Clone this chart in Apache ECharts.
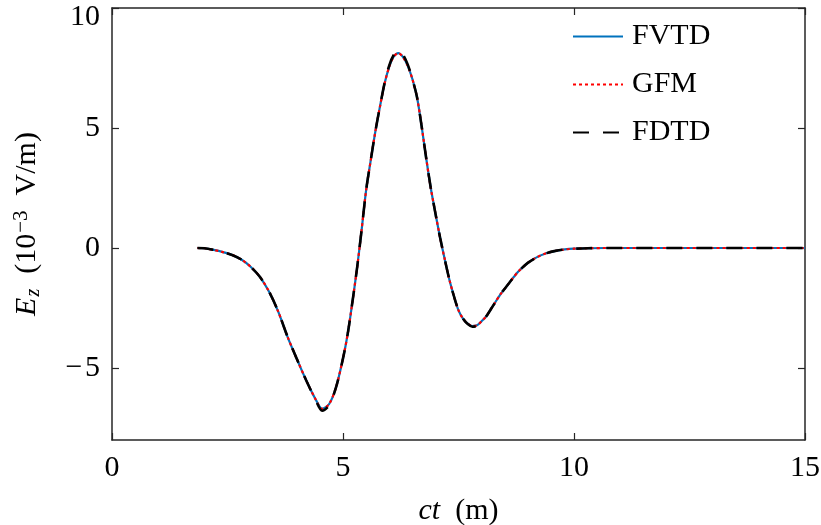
<!DOCTYPE html>
<html>
<head>
<meta charset="utf-8">
<script src="https://cdn.jsdelivr.net/npm/echarts@6/dist/echarts.min.js"></script>
<style>
html,body{margin:0;padding:0;background:#fff;}
#c{width:821px;height:525px;}
</style>
</head>
<body>
<div id="c"></div>
<script>
// ct (m)
const ct = [1.85,2.0,2.2,2.4,2.6,2.8,3.0,3.2,3.4,3.6,3.8,4.0,4.2,4.4,4.55,4.7,4.85,5.0,5.1,5.2,5.3,5.4,5.5,5.6,5.7,5.8,5.9,6.0,6.1,6.2,6.3,6.4,6.5,6.6,6.7,6.8,6.9,7.0,7.1,7.2,7.3,7.4,7.5,7.6,7.7,7.8,7.9,8.0,8.1,8.2,8.3,8.4,8.5,8.6,8.7,8.8,9.0,9.2,9.4,9.6,9.8,10.0,10.3,10.7,11,12,13,14,15];
// Ez (1e-3 V/m)
const fvtd = [0,-0.01,-0.08,-0.17,-0.29,-0.48,-0.78,-1.2,-1.82,-2.66,-3.7,-4.62,-5.5,-6.28,-6.7,-6.5,-5.8,-4.6,-3.6,-2.3,-0.9,0.7,2.4,3.65,4.85,5.89,6.85,7.55,7.98,8.12,7.95,7.6,7.05,6.3,5.1,3.75,2.5,1.45,0.45,-0.45,-1.3,-2.0,-2.6,-2.95,-3.15,-3.25,-3.22,-3.05,-2.85,-2.55,-2.25,-1.95,-1.7,-1.45,-1.2,-0.97,-0.62,-0.38,-0.22,-0.12,-0.06,-0.03,-0.01,0,0,0,0,0,0];
const gfm = [0,-0.01,-0.08,-0.17,-0.29,-0.48,-0.78,-1.2,-1.82,-2.66,-3.7,-4.62,-5.5,-6.28,-6.7,-6.5,-5.8,-4.6,-3.6,-2.3,-0.9,0.7,2.4,3.65,4.85,5.89,6.85,7.55,7.98,8.12,7.95,7.6,7.05,6.3,5.1,3.75,2.5,1.45,0.45,-0.45,-1.3,-2.0,-2.6,-2.95,-3.15,-3.25,-3.22,-3.05,-2.85,-2.55,-2.25,-1.95,-1.7,-1.45,-1.2,-0.97,-0.62,-0.38,-0.22,-0.12,-0.06,-0.03,-0.01,0,0,0,0,0,0];
const fdtd = [0,-0.01,-0.08,-0.17,-0.29,-0.48,-0.78,-1.2,-1.82,-2.66,-3.7,-4.62,-5.5,-6.3,-6.78,-6.55,-5.8,-4.6,-3.6,-2.3,-0.9,0.7,2.4,3.65,4.85,5.89,6.87,7.6,8.05,8.22,8.05,7.65,7.05,6.3,5.1,3.75,2.5,1.45,0.45,-0.45,-1.3,-2.0,-2.6,-2.95,-3.17,-3.28,-3.24,-3.05,-2.85,-2.55,-2.25,-1.95,-1.7,-1.45,-1.2,-0.97,-0.62,-0.38,-0.22,-0.12,-0.06,-0.03,-0.01,0,0,0,0,0,0];
const xTicks = [0,5,10,15];
const yTicks = [-5,0,5,10];

const pair = a => ct.map((x,i)=>[x,a[i]]);
const FONT = 'Liberation Serif';
const FS = 30;
const axisColor = '#262626';
const lineAx = {show:true,onZero:false,lineStyle:{color:axisColor,width:1.5}};
const tickAx = {show:true,inside:true,length:7,lineStyle:{color:axisColor,width:1.2}};

const chart = echarts.init(document.getElementById('c'));
chart.setOption({
  animation:false,
  textStyle:{fontFamily:FONT},
  grid:{left:112,right:16,top:8,bottom:85,containLabel:false,outerBoundsMode:'none'},
  legend:{
    orient:'vertical', left:572, top:21, padding:0,
    itemWidth:50, itemHeight:14, itemGap:17,
    itemStyle:{opacity:0},
    textStyle:{fontFamily:FONT,fontSize:FS,color:'#000',lineHeight:31,padding:[0,0,0,4]},
    data:['FVTD','GFM','FDTD']
  },
  xAxis:[{
    type:'value',min:0,max:15,interval:5,
    axisLine:lineAx, axisTick:tickAx,
    axisLabel:{fontFamily:FONT,fontSize:FS,color:'#000',margin:13,
      formatter:v=>xTicks.includes(v)?String(v):''},
    splitLine:{show:false},
    name:'{i|ct}{n| \u00a0(m)}',nameLocation:'middle',nameGap:56,
    nameTextStyle:{rich:{i:{fontFamily:FONT,fontStyle:'italic',fontSize:FS,color:'#000'},n:{fontFamily:FONT,fontSize:FS,color:'#000'}}}
  },{
    type:'value',min:0,max:15,interval:5,position:'top',
    axisLine:lineAx, axisTick:tickAx,
    axisLabel:{show:false},splitLine:{show:false}
  }],
  yAxis:[{
    type:'value',min:-8,max:10,
    axisLine:lineAx,
    axisTick:Object.assign({customValues:yTicks},tickAx),
    axisLabel:{fontFamily:FONT,fontSize:FS,color:'#000',margin:12,customValues:yTicks,
      formatter:v=>v===10?'{t|10}':String(v).replace('-','\u2212\u200a'),
      rich:{t:{fontFamily:FONT,fontSize:FS,color:'#000',padding:[18,0,0,0]}}},
    splitLine:{show:false},
    name:'{i|E}{s|z}{n| \u00a0(10}{p|\u22123}{n| \u00a0V/m)}',nameLocation:'middle',nameGap:68,nameRotate:90,
    nameTextStyle:{rich:{
      i:{fontFamily:FONT,fontStyle:'italic',fontSize:FS,color:'#000'},
      s:{fontFamily:FONT,fontStyle:'italic',fontSize:20,color:'#000',verticalAlign:'bottom',padding:[12,0,0,1]},
      n:{fontFamily:FONT,fontSize:FS,color:'#000'},
      p:{fontFamily:FONT,fontSize:21,color:'#000',verticalAlign:'top',padding:[0,0,12,1]}
    }}
  },{
    type:'value',min:-8,max:10,position:'right',
    axisLine:lineAx,
    axisTick:Object.assign({customValues:yTicks},tickAx),
    axisLabel:{show:false},splitLine:{show:false}
  }],
  series:[
    {name:'FVTD',type:'line',data:pair(fvtd),smooth:0.3,symbol:'none',
      lineStyle:{color:'#0072BD',width:2.2},itemStyle:{color:'#0072BD'},z:2},
    {name:'GFM',type:'line',data:pair(gfm),smooth:0.3,symbol:'none',
      lineStyle:{color:'#FF0000',width:2.2,type:[3,3]},itemStyle:{color:'#FF0000'},z:3},
    {name:'FDTD',type:'line',data:pair(fdtd),smooth:0.3,symbol:'none',
      lineStyle:{color:'#000',width:2.6,type:[16,14]},itemStyle:{color:'#000'},z:4}
  ]
});
</script>
</body>
</html>
